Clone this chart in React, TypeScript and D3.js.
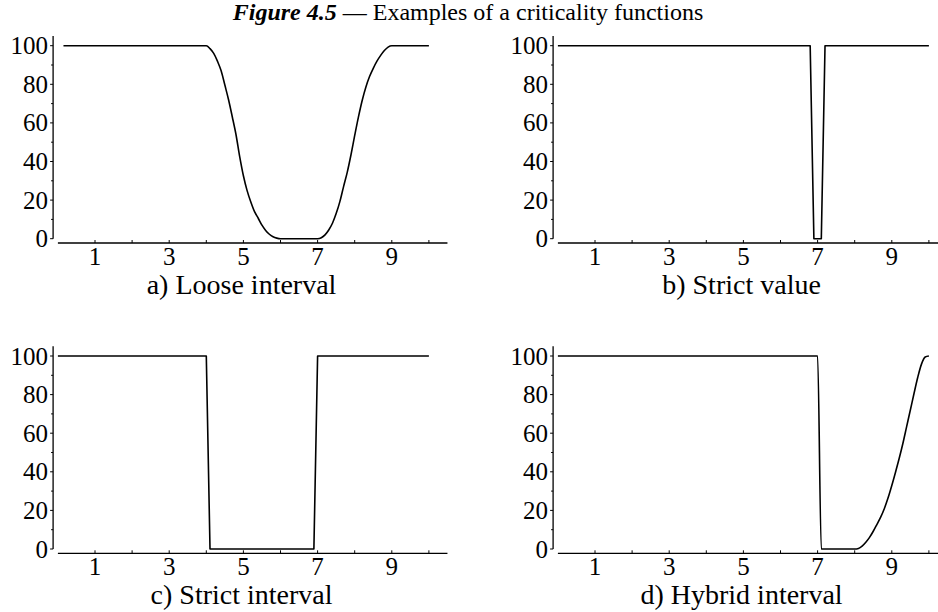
import React from "react";
import * as d3 from "d3";

// Criticality (in %) as a function of the observed value, sampled along x.
const looseX = [0.15, 4.0, 4.1, 4.2, 4.3, 4.4, 4.5, 4.6, 4.7, 4.8, 4.9, 5.0, 5.1, 5.2, 5.3, 5.4, 5.5, 5.6, 5.7, 5.8, 5.9, 6.0,
  7.0, 7.1, 7.2, 7.3, 7.4, 7.5, 7.6, 7.7, 7.8, 7.9, 8.0, 8.1, 8.2, 8.3, 8.4, 8.5, 8.6, 8.7, 8.8, 8.9, 9.0, 10.0];
const looseY = [100, 100, 98.5, 96, 92, 87, 79.6, 72, 63.2, 54, 42.5, 32.6, 24.9, 19, 14, 10.6, 7, 4.3, 2.3, 1, 0.3, 0,
  0, 0.5, 2, 4.5, 8, 13, 19.2, 27, 34.5, 43.5, 53.5, 63, 71.5, 78.5, 84, 88.3, 92, 95, 97.5, 99.3, 100, 100];

const strictValueX = [0, 6.8, 6.9, 7.1, 7.2, 10.0];
const strictValueY = [100, 100, 0, 0, 100, 100];

const strictIntervalX = [0, 4.0, 4.1, 6.9, 7.0, 10.0];
const strictIntervalY = [100, 100, 0, 0, 100, 100];

const hybridX = [0, 7.0, 7.1, 8.0, 8.1, 8.2, 8.3, 8.4, 8.5, 8.6, 8.7, 8.8, 8.9, 9.0, 9.1, 9.2, 9.3, 9.4, 9.5, 9.6, 9.7, 9.8, 9.9, 10.0];
const hybridY = [100, 100, 0, 0, 0.3, 1.5, 3.5, 6, 9.2, 12.8, 16.5, 21, 26.5, 32.9, 39.8, 47, 54.8, 63.4, 72, 80.7, 89, 95.8, 99.5, 100];

const xTickLabels = [1, 3, 5, 7, 9];
const xMinorTicks = [1, 2, 3, 4, 5, 6, 7, 8, 9, 10];
const yTickLabels = [0, 20, 40, 60, 80, 100];
const yMinorTicks = [10, 30, 50, 70, 90];

const panelCaptions = ["a) Loose interval", "b) Strict value", "c) Strict interval", "d) Hybrid interval"];

const SERIF = "'Liberation Serif', 'Times New Roman', serif";

type PanelProps = {
  left: number;
  top: number;
  xs: number[];
  ys: number[];
  caption: string;
  smooth: boolean;
};

function Panel({ left, top, xs, ys, caption, smooth }: PanelProps) {
  const unit = 37.1;
  const x = d3.scaleLinear().domain([0, 10.5]).range([left, left + 10.5 * unit]);
  const y = d3.scaleLinear().domain([0, 100]).range([top + 193, top]);
  const pts: [number, number][] = xs.map((v, i) => [v, ys[i]]);
  const line = d3
    .line<[number, number]>()
    .x((d) => x(d[0]))
    .y((d) => y(d[1]))
    .curve(smooth ? d3.curveMonotoneX : d3.curveLinear);
  const axisY = y(0) + 4.3; // horizontal axis sits just below zero
  const yAxisX = left - 4.8;
  return (
    <g>
      {/* vertical axis */}
      <line x1={yAxisX} x2={yAxisX} y1={y(105)} y2={y(0)} stroke="#000" strokeWidth={1.3} />
      {yTickLabels.map((t) => (
        <g key={"yt" + t}>
          <line x1={yAxisX - 3} x2={yAxisX} y1={y(t)} y2={y(t)} stroke="#000" strokeWidth={1} />
          <text
            x={yAxisX - 5}
            y={y(t)}
            textAnchor="end"
            dominantBaseline="central"
            fontFamily={SERIF}
            fontSize={25}
          >
            {t}
          </text>
        </g>
      ))}
      {yMinorTicks.map((t) => (
        <line key={"ym" + t} x1={yAxisX - 2} x2={yAxisX} y1={y(t)} y2={y(t)} stroke="#000" strokeWidth={1} />
      ))}
      {/* horizontal axis */}
      <line x1={x(0)} x2={x(10.5)} y1={axisY} y2={axisY} stroke="#000" strokeWidth={1.3} />
      {xMinorTicks.map((t) => (
        <line key={"xm" + t} x1={x(t)} x2={x(t)} y1={axisY - 3} y2={axisY} stroke="#000" strokeWidth={1} />
      ))}
      {xTickLabels.map((t) => (
        <text
          key={"xt" + t}
          x={x(t)}
          y={axisY + 22}
          textAnchor="middle"
          fontFamily={SERIF}
          fontSize={25}
        >
          {t}
        </text>
      ))}
      <path d={line(pts) ?? ""} fill="none" stroke="#000" strokeWidth={1.6} strokeLinejoin="round" />
      <text
        x={x(4.95)}
        y={axisY + 51}
        textAnchor="middle"
        fontFamily={SERIF}
        fontSize={28}
      >
        {caption}
      </text>
    </g>
  );
}

export default function App() {
  return (
    <svg
      width={938}
      height={612}
      viewBox="0 0 938 612"
      style={{ position: "absolute", left: 0, top: 0, background: "#fff" }}
    >
      <rect x={0} y={0} width={938} height={612} fill="#fff" />
      <text x={468} y={20} textAnchor="middle" fontFamily={SERIF} fontSize={24}>
        <tspan fontWeight="bold" fontStyle="italic">Figure 4.5</tspan>
        <tspan> — Examples of a criticality functions</tspan>
      </text>
      <Panel left={57.9} top={45.7} xs={looseX} ys={looseY} caption={panelCaptions[0]} smooth={true} />
      <Panel left={557.9} top={45.7} xs={strictValueX} ys={strictValueY} caption={panelCaptions[1]} smooth={false} />
      <Panel left={57.9} top={356} xs={strictIntervalX} ys={strictIntervalY} caption={panelCaptions[2]} smooth={false} />
      <Panel left={557.9} top={356} xs={hybridX} ys={hybridY} caption={panelCaptions[3]} smooth={true} />
    </svg>
  );
}
